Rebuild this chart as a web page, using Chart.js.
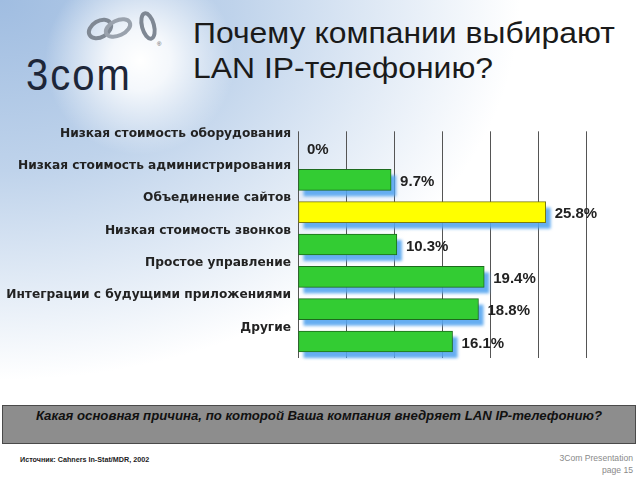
<!DOCTYPE html>
<html>
  <head>
    <meta charset="utf-8" />
    <title>LAN IP</title>
    <style>
      html, body { margin: 0; padding: 0; }
      body {
        width: 640px; height: 480px; position: relative; overflow: hidden;
        font-family: "Liberation Sans", Arial, sans-serif;
        background:
          radial-gradient(circle at 140px 60px, #ffffff 0, rgba(255,255,255,0.85) 30px, rgba(255,255,255,0) 95px),
          radial-gradient(ellipse 520px 380px at 0 0, #a0bde1 0%, #bfd3eb 45%, rgba(255,255,255,0) 100%),
          #ffffff;
      }
      #logo { position: absolute; left: 26px; top: 10px; }
      #logoText {
        position: absolute; left: 26px; top: 50px; font-family: "Liberation Sans", sans-serif;
        font-size: 40px; letter-spacing: 2px; color: #1d2638; transform: scaleY(1.12); transform-origin: left top;
      }
      #title {
        position: absolute; left: 193px; top: 16px; font-size: 29px; line-height: 35px;
        color: #1a1a1a; white-space: nowrap; transform: scaleX(1.1); transform-origin: left top;
      }
      #chartBox { position: absolute; left: 0; top: 117px; }
      #question {
        position: absolute; left: 2px; top: 405px; width: 634px; height: 39px; box-sizing: border-box;
        background: #8d8d8d; border: 1px solid #4a4a4a; text-align: center;
        font-style: italic; font-weight: bold; font-size: 13.2px; color: #111; padding-top: 2px;
      }
      #source { position: absolute; left: 20px; top: 455px; font-size: 7.2px; font-weight: bold; color: #222; }
      #pageInfo { position: absolute; right: 7px; top: 452px; font-size: 8.6px; color: #8a8a8a; text-align: right; line-height: 12px; }
    </style>
  </head>

  <body>
    <svg id="logo" width="150" height="40" viewBox="0 0 150 40">
      <ellipse cx="74" cy="19" rx="12" ry="8" transform="rotate(-30 74 19)" fill="none" stroke="#7f8894" stroke-width="4" />
      <ellipse cx="92" cy="18" rx="13" ry="7.5" transform="rotate(-25 92 18)" fill="none" stroke="#9aa2ad" stroke-width="4" />
      <ellipse cx="122" cy="16" rx="6" ry="13" transform="rotate(-15 122 16)" fill="none" stroke="#7f8894" stroke-width="4" />
      <text x="131" y="36" font-size="6" fill="#555">®</text>
    </svg>
    <div id="logoText">3com</div>
    <div id="title">Почему компании выбирают<br />LAN IP-телефонию?</div>

    <div id="chartBox"><canvas id="chart" width="640" height="255"></canvas></div>

    <div id="question">Какая основная причина, по которой Ваша компания внедряет LAN IP-телефонию?</div>
    <div id="source">Источник: Cahners In-Stat/MDR, 2002</div>
    <div id="pageInfo">3Com Presentation<br />page 15</div>

    <script src="https://cdn.jsdelivr.net/npm/chart.js"></script>
    <script>
      const categories = [
        "Низкая стоимость оборудования",
        "Низкая стоимость администрирования",
        "Объединение сайтов",
        "Низкая стоимость звонков",
        "Простое управление",
        "Интеграции с будущими приложениями",
        "Другие",
      ];
      const values = [0, 9.7, 25.8, 10.3, 19.4, 18.8, 16.1];
      const valueLabels = ["0%", "9.7%", "25.8%", "10.3%", "19.4%", "18.8%", "16.1%"];
      const highlighted = "Объединение сайтов";

      // blurred blue shadow under each bar, taken from the bar elements
      const barShadow = {
        id: "barShadow",
        beforeDatasetsDraw(chart) {
          const ctx = chart.ctx;
          const meta = chart.getDatasetMeta(0);
          ctx.save();
          ctx.filter = "blur(1.5px)";
          ctx.fillStyle = "rgba(85,165,240,0.9)";
          meta.data.forEach((bar) => {
            const p = bar.getProps(["x", "y", "base", "height"], true);
            if (p.x - p.base < 1) return;
            ctx.fillRect(p.base + 5, p.y - p.height / 2 + 6, p.x - p.base, p.height);
          });
          ctx.restore();
        },
      };

      const valueText = {
        id: "valueText",
        afterDraw(chart) {
          const ctx = chart.ctx;
          const meta = chart.getDatasetMeta(0);
          ctx.save();
          ctx.font = "bold 15px 'Liberation Sans', Arial, sans-serif";
          ctx.fillStyle = "#222";
          ctx.textAlign = "left";
          ctx.textBaseline = "middle";
          meta.data.forEach((bar, i) => {
            ctx.fillText(valueLabels[i], bar.x + 9, bar.y + 2);
          });
          ctx.restore();
        },
      };

      new Chart(document.getElementById("chart").getContext("2d"), {
        type: "bar",
        data: {
          labels: categories,
          datasets: [
            {
              data: values,
              backgroundColor: categories.map((c) => (c === highlighted ? "#ffff00" : "#33cc33")),
              borderColor: categories.map((c) => (c === highlighted ? "#7a7a10" : "#1d6b1d")),
              borderWidth: 1,
              borderSkipped: false,
              barThickness: 21,
            },
          ],
        },
        options: {
          indexAxis: "y",
          responsive: false,
          animation: false,
          layout: { padding: { top: 7, right: 54, bottom: 6 } },
          plugins: { legend: { display: false }, tooltip: { enabled: false } },
          scales: {
            x: {
              min: 0,
              max: 30,
              ticks: { stepSize: 5, display: false },
              grid: { color: "#555", lineWidth: 1, drawTicks: false },
              border: { display: false },
              afterFit(scale) { scale.height = 0; },
            },
            y: {
              grid: { display: false, drawTicks: false },
              border: { display: false },
              ticks: {
                padding: 7,
                labelOffset: -14,
                color: "#222",
                font: { family: "'DejaVu Sans', sans-serif", size: 12.2, weight: "bold" },
              },
              afterFit(scale) { scale.width = 298; },
            },
          },
        },
        plugins: [barShadow, valueText],
      });
    </script>
  </body>
</html>
